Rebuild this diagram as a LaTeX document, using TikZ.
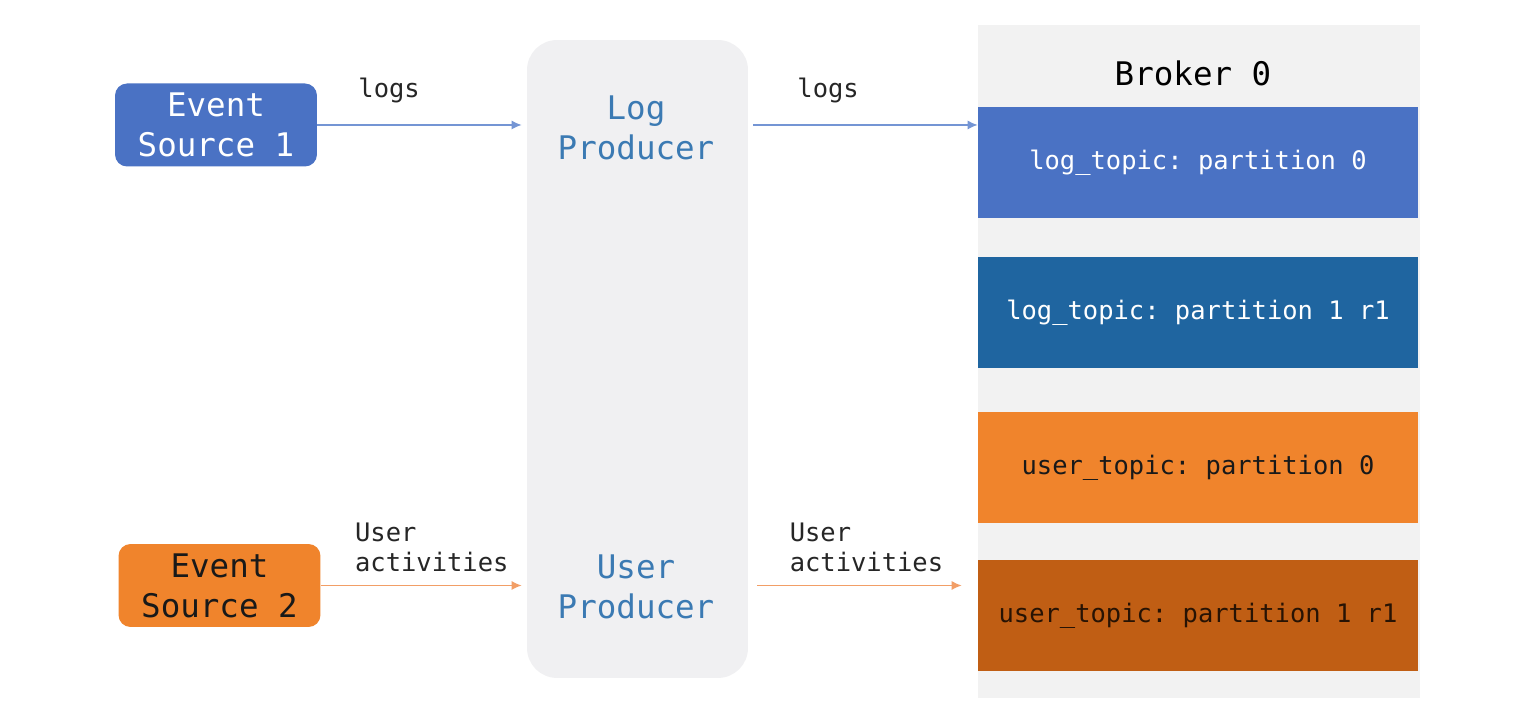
\documentclass[tikz,border=0pt]{standalone}
\usepackage{fontspec}
\setmonofont{DejaVu Sans Mono}
\usetikzlibrary{shapes,arrows.meta,positioning}
\definecolor{srcblue}{HTML}{4A72C4}
\definecolor{srcorange}{HTML}{F0842C}
\definecolor{darkblue}{HTML}{1F65A0}
\definecolor{darkorange}{HTML}{C05E14}
\definecolor{prodgray}{HTML}{F0F0F2}
\definecolor{brokergray}{HTML}{F2F2F2}
\definecolor{prodtext}{HTML}{3B7AB3}
\definecolor{arrblue}{HTML}{7495D4}
\definecolor{arrorange}{HTML}{F29E66}
\tikzstyle{source} = [rectangle, rounded corners=0.24cm, minimum width=4.04cm,
    minimum height=1.66cm, align=center, font=\ttfamily\fontsize{18.5}{22.7}\selectfont]
\tikzstyle{prodbox} = [rectangle, fill=prodgray, rounded corners=0.6cm,
    minimum width=4.42cm, minimum height=12.76cm]
\tikzstyle{producer} = [align=center, text=prodtext, font=\ttfamily\fontsize{18.5}{22.7}\selectfont]
\tikzstyle{broker} = [rectangle, fill=brokergray, minimum width=8.84cm, minimum height=13.46cm]
\tikzstyle{part} = [rectangle, minimum width=8.8cm, minimum height=2.22cm,
    font=\ttfamily\fontsize{14.5}{17}\selectfont]
\tikzstyle{lbl} = [align=left, text=black!85, font=\ttfamily\fontsize{14.5}{17}\selectfont]
\tikzstyle{bline} = [draw, line width=0.8pt, arrblue, -{Latex[length=0.2cm, width=0.18cm]}]
\tikzstyle{oline} = [draw, line width=0.8pt, arrorange, -{Latex[length=0.2cm, width=0.18cm]}]

\begin{document}
\begin{tikzpicture}[x=0.02cm, y=0.02cm, inner sep=0pt]
		\useasboundingbox [fill=white] (0,0) rectangle (1530,712);
		% producers
		\node [prodbox] (prod) at (637.5,353) {};
		\node [producer] (logprod) at (636,584) {Log\\Producer};
		\node [producer, node distance=9.18cm, below of=logprod] (userprod) {User\\Producer};
		% broker
		\node [broker] (broker) at (1199,350.5) {};
		\node [font=\ttfamily\fontsize{18.5}{22.7}\selectfont] (brokername) at (1193,639) {Broker 0};
		\node [part, fill=srcblue, text=white] (p0) at (1198,549) {log\_topic: partition 0};
		\node [part, fill=darkblue, text=white, node distance=2.99cm, below of=p0] (p1) {log\_topic: partition 1 r1};
		\node [part, fill=srcorange, text=black!90, node distance=3.11cm, below of=p1] (p2) {user\_topic: partition 0};
		\node [part, fill=darkorange, text=black!80!darkorange, node distance=2.95cm, below of=p2] (p3) {user\_topic: partition 1 r1};
		% sources
		\node [source, fill=srcblue, text=white] (src1) at (216,587) {Event\\Source 1};
		\node [source, fill=srcorange, text=black!90] (src2) at (219.5,126.5) {Event\\Source 2};

		\path [bline, shorten >=0.1cm] (src1) -- node [lbl, pos=0.343, yshift=0.7cm] {logs} (src1 -| prod.west);
		\path [bline, shorten <=0.1cm] (prod.east |- src1) -- node [lbl, pos=0.348, yshift=0.7cm] {logs} (p0.west |- src1);
		\path [oline, shorten >=0.1cm] (src2) -- node [lbl, pos=0.539, yshift=0.76cm] {User\\activities} (src2 -| prod.west);
		\path [oline, shorten <=0.18cm, shorten >=0.32cm] (prod.east |- src2) -- node [lbl, pos=0.515, yshift=0.76cm] {User\\activities} (p3.west |- src2);
	\end{tikzpicture}
\end{document}
